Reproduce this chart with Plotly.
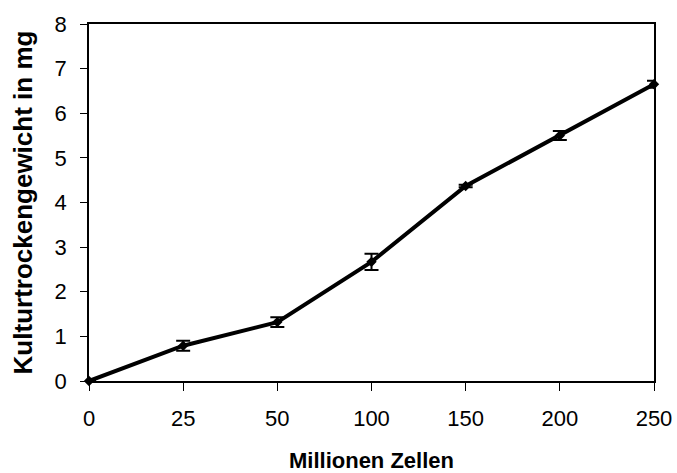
import plotly.graph_objects as go

categories = ["0", "25", "50", "100", "150", "200", "250"]
values = [0.0, 0.79, 1.32, 2.67, 4.37, 5.50, 6.65]
errors = [0.0, 0.11, 0.11, 0.18, 0.03, 0.10, 0.08]
y_ticks = [0, 1, 2, 3, 4, 5, 6, 7, 8]

FONT = "Liberation Sans, Arial, sans-serif"

fig = go.Figure()
fig.add_trace(go.Scatter(
    x=categories, y=values,
    mode="lines+markers",
    line=dict(color="black", width=4),
    marker=dict(symbol="diamond", size=8, color="black"),
    error_y=dict(type="data", array=errors, visible=True,
                 color="black", thickness=2, width=7),
    showlegend=False,
    cliponaxis=False,
))

fig.update_layout(
    width=677, height=473,
    margin=dict(l=89, r=23, t=24, b=92),
    paper_bgcolor="white", plot_bgcolor="white",
    font=dict(family=FONT, color="black", size=22),
    xaxis=dict(
        type="category", range=[0, 6], automargin=False,
        showline=True, linecolor="black", linewidth=1.5, mirror=True,
        ticks="outside", ticklen=8, tickcolor="black", tickwidth=1,
        ticklabelstandoff=9,
        showgrid=False, zeroline=False,
        tickfont=dict(size=22),
        title=dict(text="<b>Millionen Zellen</b>", font=dict(size=22), standoff=34),
    ),
    yaxis=dict(
        range=[0, 8], tickvals=y_ticks, automargin=False,
        showline=True, linecolor="black", linewidth=1.5, mirror=True,
        ticks="outside", ticklen=7, tickcolor="black", tickwidth=1,
        ticklabelstandoff=9,
        showgrid=False, zeroline=False,
        tickfont=dict(size=22),
        title=dict(text="<b>Kulturtrockengewicht in mg</b>", font=dict(size=26), standoff=14),
    ),
)

fig.write_html("out.html")
